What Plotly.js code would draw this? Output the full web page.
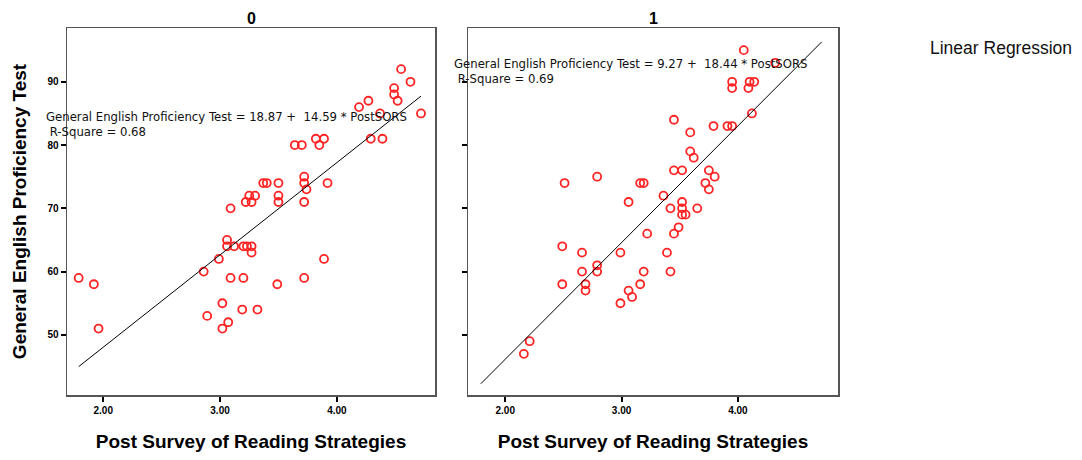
<!DOCTYPE html>
<html>
<head>
<meta charset="utf-8">
<script src="https://cdn.plot.ly/plotly-3.0.1.min.js"></script>
<style>html,body{margin:0;padding:0;background:#fff;}#chart{width:1082px;height:460px;}</style>
</head>
<body>
<div id="chart"></div>
<script>
// Group 0
const x0 = [4.55,4.63,4.49,4.49,4.52,4.27,4.19,4.72,4.37,4.29,4.39,3.82,3.89,3.85,3.64,3.70,3.92,3.72,3.72,3.74,3.72,3.50,3.50,3.50,3.37,3.40,3.30,3.25,3.27,3.22,3.09,3.06,3.06,3.12,3.20,3.23,3.27,3.27,2.99,3.89,2.86,1.79,1.92,3.09,3.20,3.72,3.49,3.02,3.19,3.32,2.89,3.07,3.02,1.96];
const y0 = [92,90,89,88,87,87,86,85,85,81,81,81,81,80,80,80,74,75,74,73,71,74,72,71,74,74,72,72,71,71,70,65,64,64,64,64,64,63,62,62,60,59,58,59,59,59,58,55,54,54,53,52,51,51];
// Group 1
const x1 = [4.05,4.32,3.95,3.95,4.10,4.14,4.09,4.12,3.45,3.79,3.91,3.95,3.59,3.59,3.62,3.45,3.52,3.75,3.80,3.72,3.75,2.51,2.79,3.16,3.19,3.36,3.06,3.52,3.52,3.52,3.55,3.42,3.65,3.49,3.22,3.45,2.49,2.66,2.99,3.39,2.79,2.66,2.79,3.19,3.42,2.49,2.69,2.69,3.16,3.06,3.09,2.99,2.21,2.16];
const y1 = [95,93,90,89,90,90,89,85,84,83,83,83,82,79,78,76,76,76,75,74,73,74,75,74,74,72,71,71,70,69,69,70,70,67,66,66,64,63,63,63,61,60,60,60,60,58,58,57,58,57,56,55,49,47];
// Fit lines
const fitX = [1.79, 4.72];
const intercept0 = 18.87, slope0 = 14.59, rsq0 = 0.68;
const intercept1 = 9.27, slope1 = 18.44, rsq1 = 0.69;
const panelTitles = ['0', '1'];
const xTickVals = [2, 3, 4];
const xTickText = ['2.00', '3.00', '4.00'];
const yTickVals = [50, 60, 70, 80, 90];
const yTickText = ['50', '60', '70', '80', '90'];

const fit0 = fitX.map(v => intercept0 + slope0 * v);
const fit1 = fitX.map(v => intercept1 + slope1 * v);

const marker = {symbol: 'circle-open', size: 8, color: '#ff2424', line: {width: 1.8, color: '#ff2424'}};
const traces = [
  {x: x0, y: y0, type: 'scatter', mode: 'markers', marker: marker, xaxis: 'x', yaxis: 'y', showlegend: false, hoverinfo: 'x+y'},
  {x: fitX, y: fit0, type: 'scatter', mode: 'lines', line: {color: '#000', width: 1}, xaxis: 'x', yaxis: 'y', showlegend: false},
  {x: x1, y: y1, type: 'scatter', mode: 'markers', marker: marker, xaxis: 'x2', yaxis: 'y2', showlegend: false, hoverinfo: 'x+y'},
  {x: fitX, y: fit1, type: 'scatter', mode: 'lines', line: {color: '#000', width: 1}, xaxis: 'x2', yaxis: 'y2', showlegend: false}
];

const W = 1082, H = 460;
const FONT = 'Arial, Liberation Sans, sans-serif';
const yDom = [1 - 395 / H, 1 - 28 / H];
const axisCommon = {
  showline: true, mirror: true, linecolor: '#555', linewidth: 1.5,
  showgrid: false, zeroline: false,
  ticks: 'outside', ticklen: 5, tickwidth: 2, tickcolor: '#000',
  tickfont: {family: FONT, size: 10, color: '#000', weight: 'bold'}
};
const xTitle = {text: 'Post Survey of Reading Strategies', font: {family: FONT, size: 19, color: '#000', weight: 'bold'}, standoff: 20};

const eqFont = {family: 'DejaVu Sans, sans-serif', size: 11.7, color: '#111'};

const layout = {
  width: W, height: H,
  margin: {l: 0, r: 0, t: 0, b: 0},
  paper_bgcolor: '#fff', plot_bgcolor: '#fff',
  showlegend: false,
  xaxis: Object.assign({}, axisCommon, {domain: [67 / W, 435 / W], range: [1.69, 4.84], tickvals: xTickVals, ticktext: xTickText, anchor: 'y', title: xTitle}),
  yaxis: Object.assign({}, axisCommon, {domain: yDom, range: [40.5, 98.5], tickvals: yTickVals, ticktext: yTickText, anchor: 'x',
    title: {text: 'General English Proficiency Test', font: {family: FONT, size: 19, color: '#000', weight: 'bold'}, standoff: 15}}),
  xaxis2: Object.assign({}, axisCommon, {domain: [468 / W, 838 / W], range: [1.68, 4.86], tickvals: xTickVals, ticktext: xTickText, anchor: 'y2', title: xTitle}),
  yaxis2: Object.assign({}, axisCommon, {domain: yDom, range: [40.5, 98.5], tickvals: yTickVals, showticklabels: false, anchor: 'x2'}),
  annotations: [
    {text: panelTitles[0], xref: 'paper', yref: 'paper', x: 251 / W, y: 1 - 18 / H, xanchor: 'center', yanchor: 'middle', showarrow: false,
      font: {family: FONT, size: 16, color: '#000', weight: 'bold'}},
    {text: panelTitles[1], xref: 'paper', yref: 'paper', x: 653 / W, y: 1 - 18 / H, xanchor: 'center', yanchor: 'middle', showarrow: false,
      font: {family: FONT, size: 16, color: '#000', weight: 'bold'}},
    {text: 'General English Proficiency Test = ' + intercept0.toFixed(2) + ' +  ' + slope0.toFixed(2) + ' * PostSORS<br> R-Square = ' + rsq0.toFixed(2),
      xref: 'paper', yref: 'paper', x: 44 / W, y: 1 - 124.5 / H, xanchor: 'left', yanchor: 'middle', align: 'left', showarrow: false,
      font: eqFont},
    {text: 'General English Proficiency Test = ' + intercept1.toFixed(2) + ' +  ' + slope1.toFixed(2) + ' * PostSORS<br> R-Square = ' + rsq1.toFixed(2),
      xref: 'paper', yref: 'paper', x: 452 / W, y: 1 - 71 / H, xanchor: 'left', yanchor: 'middle', align: 'left', showarrow: false,
      font: eqFont},
    {text: 'Linear Regression', xref: 'paper', yref: 'paper', x: 928 / W, y: 1 - 48 / H, xanchor: 'left', yanchor: 'middle', showarrow: false,
      font: {family: FONT, size: 17.5, color: '#111'}}
  ]
};

Plotly.newPlot('chart', traces, layout, {displayModeBar: false, staticPlot: true});
</script>
</body>
</html>
